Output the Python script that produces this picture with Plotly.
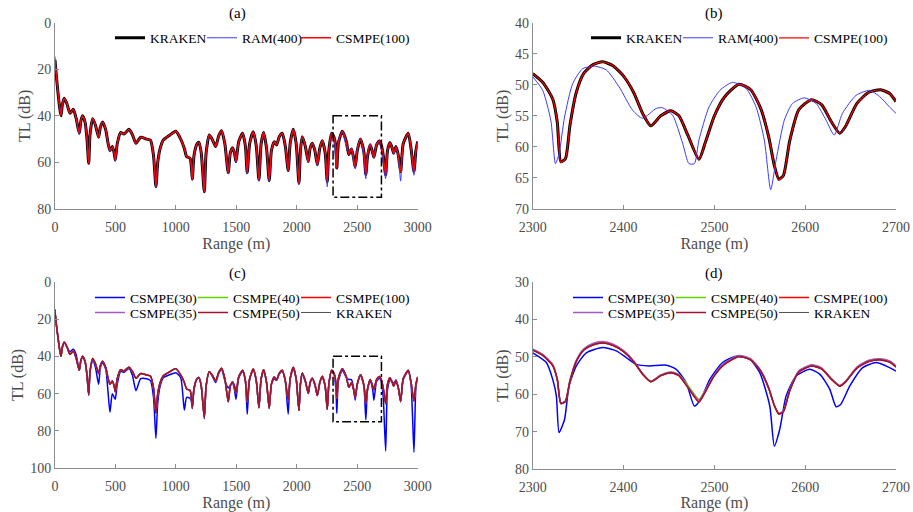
import plotly.graph_objects as go

FONT = "Liberation Serif"

# ---------------- full-range data (panels a and c) ----------------
full_range = [0, 10, 25, 40, 50, 62, 77, 100, 124, 151,
              175, 201, 215, 229, 250, 265, 279, 290, 312, 335,
              361, 375, 394, 420, 440, 455, 474, 490, 499, 515,
              543, 571, 612, 640, 670, 709, 758, 790, 815, 835,
              850, 870, 896, 951, 1000, 1040, 1070, 1089, 1117, 1128,
              1136, 1150, 1175, 1191, 1210, 1235, 1250, 1276, 1300, 1329,
              1355, 1378, 1405, 1433, 1450, 1469, 1485, 1497, 1520, 1552,
              1575, 1590, 1610, 1640, 1665, 1687, 1705, 1726, 1750, 1772,
              1790, 1814, 1833, 1855, 1880, 1905, 1929, 1945, 1971, 1995,
              2018, 2030, 2045, 2070, 2095, 2110, 2128, 2150, 2170, 2190,
              2211, 2235, 2252, 2265, 2288, 2310, 2325, 2331, 2345, 2377,
              2410, 2430, 2452, 2470, 2483, 2500, 2527, 2555, 2571, 2585,
              2607, 2628, 2638, 2660, 2683, 2700, 2715, 2735, 2750, 2770,
              2790, 2801, 2820, 2840, 2859, 2880, 2922, 2945, 2969, 2985,
              3000]

kraken_full = [16, 22, 30, 37, 40, 35, 32.5, 35, 38.9, 37.2,
               41, 47.5, 42, 40, 43, 50, 60.4, 48, 41.2, 44,
               49.2, 45, 42.6, 46, 52, 55, 53.2, 56, 59, 52,
               47.2, 47.8, 45.8, 48, 51.8, 49.2, 50, 50.5, 57, 70.4,
               60, 54, 50.4, 48.2, 46.6, 50, 54, 57.5, 58.2, 62,
               67.2, 57, 52, 51.4, 56, 72.6, 56, 48.2, 50, 53.2,
               48.5, 46.4, 52, 64.4, 56, 53.7, 56, 59.7, 51, 47.5,
               53, 64.4, 52, 46.8, 53, 67.5, 52, 47.2, 54, 67.8,
               55, 51.1, 52.5, 49, 47.5, 53, 63.5, 52, 45.8, 52,
               69, 55, 49, 53, 59.7, 54, 51.8, 55, 61, 54,
               50.7, 56, 68.3, 55, 47.5, 49.5, 55, 62.4, 51.5, 46.6,
               51, 56.6, 54.2, 58, 62, 55, 49.9, 55.5, 65.2, 57.5,
               52.4, 56, 57.8, 52.5, 50.8, 52.7, 57, 65.4, 55, 51.5,
               54, 56, 53.2, 57, 64, 52, 47.5, 54, 64, 55,
               51]

ram400_full = [14.5, 21, 29.5, 36, 38.5, 34.5, 32.5, 35, 38.9, 37.2,
               41, 48, 42, 40, 43, 50, 60.4, 48, 41.2, 44,
               49.2, 45, 42.6, 46, 52, 55.5, 53.2, 56, 59.5, 52,
               47.2, 47.8, 45.8, 48, 51.8, 49.2, 50, 50.5, 57, 70.8,
               60, 54, 50.4, 48.2, 46.6, 50, 54, 57.5, 58.2, 62,
               67.5, 57, 52, 51.4, 56, 72.6, 56, 48.2, 50, 53.2,
               48.5, 46.4, 52, 65, 56, 53.7, 56, 60, 51, 47.5,
               53, 65, 52, 46.8, 53, 68, 52, 47.2, 54, 68,
               55, 51.1, 52.5, 49, 47.5, 53, 63.8, 52, 45.8, 52,
               69.3, 55, 49, 53, 60, 54, 51.8, 55, 61.3, 54,
               50.7, 56, 70.5, 55, 47.5, 50.5, 62.7, 58, 50, 47,
               53.5, 55.4, 53.8, 60, 62.7, 54, 49.6, 58, 67, 55.7,
               52.1, 56.5, 58.1, 51.7, 51.9, 54.6, 60, 67, 55, 51.5,
               54, 56.5, 53.2, 58, 68, 52, 47.5, 54.5, 65.5, 55,
               51]

csmpe30_full = [14.8, 22.8, 29.5, 36.5, 37.5, 34.5, 32.5, 35, 37.5, 36.2,
                39, 47.5, 42, 40.5, 43.5, 50.5, 61, 48.5, 42, 46,
                55, 46.5, 43.5, 47, 60, 70, 60, 62, 63, 55,
                48, 48.5, 46.5, 50, 58.4, 52, 52, 53, 62, 83.9,
                65, 56, 51.5, 49.8, 48.8, 51.5, 68.8, 62, 62.5, 64,
                68, 58, 52, 51.4, 56, 73.5, 56, 48.2, 50.5, 54,
                49, 47, 53, 57, 55.4, 54.5, 58, 63, 51.5, 48,
                53.5, 71, 52.5, 47.5, 53.5, 67.5, 52.5, 47.8, 54.5, 68,
                55, 52, 53, 49.5, 48, 53.5, 71, 52.5, 46.5, 52.5,
                69, 55, 49.5, 53.5, 60, 54.5, 52, 55.5, 61, 54.5,
                51, 56.5, 68.5, 55, 48, 50, 60, 70.5, 53, 47.5,
                51.5, 52.4, 52.5, 57, 63.5, 55, 49.9, 56, 74, 58,
                53.3, 58, 63.5, 53.5, 51.8, 53.8, 62, 90.7, 58, 53,
                53.5, 55, 52.5, 57, 64.5, 52.5, 48, 55, 91.4, 57,
                51.5]

# converged CSMPE runs coincide with KRAKEN at this scale
csmpe100_full = list(kraken_full)
csmpe35_full = list(kraken_full)
csmpe40_full = list(kraken_full)
csmpe50_full = list(kraken_full)

# ---------------- zoomed data 2300-2700 m (panels b and d) ----------------
z_kraken_x = [2300, 2311, 2322, 2327, 2331, 2336, 2341, 2348, 2356, 2366,
              2377, 2388, 2400, 2411, 2421, 2430, 2441, 2452, 2461, 2471,
              2483, 2490, 2500, 2511, 2527, 2540, 2551, 2560, 2566, 2571,
              2576, 2583, 2593, 2607, 2618, 2629, 2638, 2644, 2657, 2670,
              2683, 2693, 2700]
z_kraken = [48.2, 49.6, 52.3, 56.0, 62.4, 61.9, 56.5, 51.2, 48.2, 46.8,
            46.3, 46.9, 48.6, 51.2, 54.6, 56.6, 55.0, 54.2, 55.0, 58.2,
            62.0, 59.3, 55.0, 52.0, 49.9, 50.8, 53.8, 58.5, 63.0, 65.2,
            64.6, 59.0, 54.0, 52.4, 53.2, 56.0, 57.8, 56.8, 53.0, 51.2,
            50.8, 51.4, 52.7]
z_csmpe100 = [48.2, 49.6, 52.3, 56.0, 62.5, 61.9, 56.5, 51.2, 48.2, 46.8,
              46.3, 46.9, 48.6, 51.2, 54.6, 56.6, 55.0, 54.2, 55.0, 58.2,
              62.0, 59.3, 55.0, 52.0, 49.9, 50.8, 53.8, 58.5, 63.0, 65.3,
              64.6, 59.0, 54.0, 52.4, 53.2, 56.0, 57.8, 56.8, 53.0, 51.2,
              50.8, 51.4, 52.7]
z_csmpe35 = [47.9, 49.3, 52.0, 55.8, 62.3, 61.7, 56.2, 50.9, 47.9, 46.4,
             45.9, 46.5, 48.3, 51.0, 54.5, 56.5, 54.8, 54.0, 54.8, 58.0,
             61.5, 59.0, 54.7, 51.7, 49.6, 50.5, 53.6, 58.3, 62.9, 65.0,
             64.4, 58.8, 53.7, 52.1, 52.9, 55.8, 57.6, 56.6, 52.7, 50.9,
             50.5, 51.1, 52.4]
z_csmpe40 = [48.0, 49.4, 52.1, 55.9, 62.3, 61.8, 56.3, 51.0, 48.0, 46.6,
             46.1, 46.7, 48.4, 51.1, 54.5, 56.5, 54.9, 54.1, 54.7, 57.6,
             61.3, 59.0, 54.8, 51.8, 49.7, 50.6, 53.7, 58.4, 62.9, 65.1,
             64.5, 58.9, 53.8, 52.2, 53.0, 55.9, 57.7, 56.7, 52.8, 51.0,
             50.6, 51.2, 52.5]
z_csmpe50 = [48.2, 49.6, 52.3, 56.0, 62.4, 61.9, 56.5, 51.2, 48.2, 46.8,
             46.3, 46.9, 48.6, 51.2, 54.6, 56.6, 55.0, 54.2, 55.0, 58.2,
             62.0, 59.3, 55.0, 52.0, 49.9, 50.8, 53.8, 58.5, 63.0, 65.2,
             64.6, 59.0, 54.0, 52.4, 53.2, 56.0, 57.8, 56.8, 53.0, 51.2,
             50.8, 51.4, 52.7]

z_ram400_x = [2300, 2311, 2320, 2325, 2329, 2335, 2344, 2355, 2368, 2381,
              2395, 2410, 2421, 2436, 2443, 2454, 2465, 2472, 2478, 2483,
              2494, 2506, 2520, 2535, 2546, 2555, 2562, 2568, 2577, 2586,
              2599, 2612, 2623, 2632, 2641, 2656, 2671, 2682, 2693, 2700]
z_ram400 = [48.7, 50.9, 55.8, 62.7, 61.1, 55.2, 49.8, 47.4, 47.0, 47.6,
            50.3, 54.1, 55.4, 53.8, 53.7, 54.9, 59.4, 62.7, 62.7, 58.9,
            53.6, 50.9, 49.6, 50.6, 53.6, 58.9, 66.9, 62.1, 55.7, 53.0,
            52.1, 53.0, 55.7, 58.1, 54.6, 51.7, 50.9, 51.9, 53.6, 54.6]

z_csmpe30_x = [2300, 2315, 2322, 2326, 2329, 2335, 2340, 2348, 2359, 2377,
               2392, 2403, 2414, 2428, 2447, 2458, 2469, 2478, 2485, 2495,
               2509, 2524, 2539, 2550, 2561, 2566, 2572, 2579, 2590, 2605,
               2616, 2627, 2634, 2639, 2649, 2663, 2678, 2689, 2700]
z_csmpe30 = [48.9, 51.5, 56.0, 60.4, 70.2, 66.7, 57.8, 52.4, 48.9, 47.5,
             48.4, 50.2, 52.0, 52.4, 52.2, 53.3, 56.9, 63.1, 61.3, 56.0,
             51.5, 49.8, 50.6, 54.2, 63.1, 73.8, 69.3, 60.4, 55.1, 53.3,
             54.6, 58.6, 63.3, 62.7, 57.8, 52.9, 51.5, 52.4, 53.8]

# ---------------- styles ----------------
C_BLUE = "#0000ff"
C_RAM = "#3b3bff"
C_RED = "#ff0000"
C_GREEN = "#5fd400"
C_PURPLE = "#a35ac4"
C_DRED = "#a2142f"
C_GRAY = "#505050"
AXC = "#8c8c8c"
TXT = "#4d4d4d"

fig = go.Figure()


def add(x, y, name, color, width, xa, ya, legend, lw, rank):
    fig.add_trace(go.Scatter(
        x=x, y=y, name=name, mode="lines",
        line=dict(color=color, width=width, shape="spline", smoothing=0.6),
        xaxis=xa, yaxis=ya, legend=legend, legendwidth=lw, legendrank=rank,
        hoverinfo="skip"))


# (a)
add(full_range, kraken_full, "KRAKEN", "black", 3, "x", "y", "legend", 47, 1)
add(full_range, ram400_full, "RAM(400)", C_RAM, 1, "x", "y", "legend", 49, 2)
add(full_range, csmpe100_full, "CSMPE(100)", C_RED, 1.4, "x", "y", "legend", 80, 3)

# (b)
add(z_kraken_x, z_kraken, "KRAKEN", "black", 3, "x2", "y2", "legend2", 47, 1)
add(z_ram400_x, z_ram400, "RAM(400)", C_RAM, 1, "x2", "y2", "legend2", 51, 2)
add(z_kraken_x, z_csmpe100, "CSMPE(100)", C_RED, 1.2, "x2", "y2", "legend2", 80, 3)

# (c)
add(full_range, csmpe30_full, "CSMPE(30)", C_BLUE, 1.5, "x3", "y3", "legend3", 58, 1)
add(full_range, csmpe40_full, "CSMPE(40)", C_GREEN, 1.5, "x3", "y3", "legend3", 58, 2)
add(full_range, csmpe100_full, "CSMPE(100)", C_RED, 1.5, "x3", "y3", "legend3", 80, 3)
add(full_range, csmpe35_full, "CSMPE(35)", C_PURPLE, 1.5, "x3", "y3", "legend4", 58, 1)
add(full_range, kraken_full, "KRAKEN", C_GRAY, 1, "x3", "y3", "legend4", 80, 3)
add(full_range, csmpe50_full, "CSMPE(50)", C_DRED, 1.5, "x3", "y3", "legend4", 58, 2)

# (d)
add(z_csmpe30_x, z_csmpe30, "CSMPE(30)", C_BLUE, 1.5, "x4", "y4", "legend5", 58, 1)
add(z_kraken_x, z_csmpe40, "CSMPE(40)", C_GREEN, 1.5, "x4", "y4", "legend5", 58, 2)
add(z_kraken_x, z_csmpe100, "CSMPE(100)", C_RED, 1.5, "x4", "y4", "legend5", 80, 3)
add(z_kraken_x, z_csmpe35, "CSMPE(35)", C_PURPLE, 1.5, "x4", "y4", "legend6", 58, 1)
add(z_kraken_x, z_kraken, "KRAKEN", C_GRAY, 1, "x4", "y4", "legend6", 80, 3)
add(z_kraken_x, z_csmpe50, "CSMPE(50)", C_DRED, 1.5, "x4", "y4", "legend6", 58, 2)


def axis(domain, anchor, rng, tickvals, title, is_x):
    d = dict(domain=domain, anchor=anchor, range=rng, tickvals=tickvals,
             showline=True, linecolor=AXC, linewidth=1, mirror=False,
             ticks="inside", ticklen=4, tickcolor=AXC, tickwidth=1,
             showgrid=False, zeroline=False, automargin=False,
             tickfont=dict(family=FONT, size=14, color=TXT),
             title=dict(text=title, font=dict(family=FONT, size=16, color=TXT),
                        standoff=0 if is_x else 2))
    if is_x:
        d["ticklabelstandoff"] = 5
    return d


XA = [0.0602, 0.4575]
XB = [0.5835, 0.9814]
YT = [0.5918, 0.9557]
YB = [0.0854, 0.4498]

fig.update_layout(
    xaxis=axis(XA, "y", [0, 3000], [0, 500, 1000, 1500, 2000, 2500, 3000], "Range (m)", True),
    yaxis=axis(YT, "x", [80, 0], [0, 20, 40, 60, 80], "TL (dB)", False),
    xaxis2=axis(XB, "y2", [2300, 2700], [2300, 2400, 2500, 2600, 2700], "Range (m)", True),
    yaxis2=axis(YT, "x2", [70, 40], [40, 45, 50, 55, 60, 65, 70], "TL (dB)", False),
    xaxis3=axis(XA, "y3", [0, 3000], [0, 500, 1000, 1500, 2000, 2500, 3000], "Range (m)", True),
    yaxis3=axis(YB, "x3", [100, 0], [0, 20, 40, 60, 80, 100], "TL (dB)", False),
    xaxis4=axis(XB, "y4", [2300, 2700], [2300, 2400, 2500, 2600, 2700], "Range (m)", True),
    yaxis4=axis([0.0834, 0.4492], "x4", [80, 30], [30, 40, 50, 60, 70, 80], "TL (dB)", False),
)


def leg(xpx, ypx):
    return dict(x=xpx / 913, y=1 - ypx / 512, xanchor="left", yanchor="middle",
                orientation="h", bgcolor="rgba(0,0,0,0)", borderwidth=0,
                font=dict(family=FONT, size=13.5, color="black"),
                traceorder="normal", itemclick=False, itemdoubleclick=False)


fig.update_layout(
    legend=leg(110, 38), legend2=leg(586, 38),
    legend3=leg(90, 297.7), legend4=leg(90, 312.7),
    legend5=leg(568, 297.7), legend6=leg(568, 312.7),
)

# zoom boxes
for xr, yr in (("x", "y"), ("x3", "y3")):
    fig.add_shape(type="rect", xref=xr, yref=yr, x0=2300, x1=2700, y0=40, y1=75,
                  line=dict(color="black", width=1.5, dash="dashdot"))

for label, xpx, ypx in (("(a)", 237, 13), ("(b)", 714, 13), ("(c)", 237, 273), ("(d)", 714, 273)):
    fig.add_annotation(text=label, x=xpx / 913, y=1 - ypx / 512, xref="paper", yref="paper",
                       showarrow=False, xanchor="center", yanchor="middle",
                       font=dict(family=FONT, size=15, color="black"))

fig.update_layout(width=913, height=512, margin=dict(l=0, r=0, t=0, b=0),
                  paper_bgcolor="white", plot_bgcolor="white", showlegend=True)

fig.write_html("out.html")
